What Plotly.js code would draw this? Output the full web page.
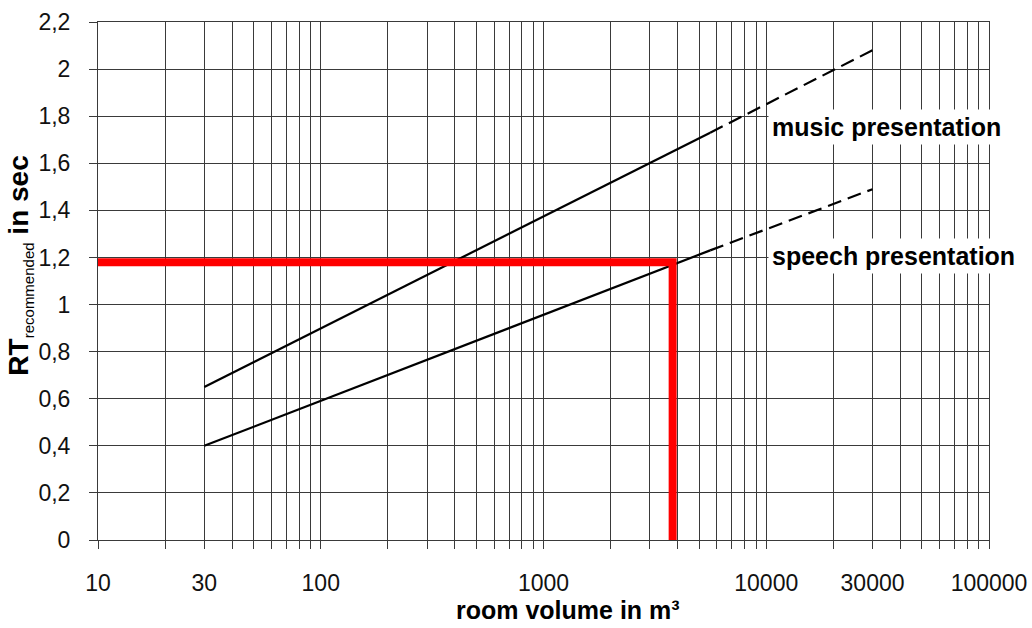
<!DOCTYPE html>
<html>
<head>
<meta charset="utf-8">
<script src="https://cdn.plot.ly/plotly-3.0.1.min.js"></script>
<style>
  html, body { margin: 0; padding: 0; background: #fff; }
  #chart { width: 1032px; height: 628px; }
</style>
</head>
<body>
<div id="chart"></div>
<script>
// Room volume (m³) and recommended reverberation time (s)
const musicSolidX = [30, 5600];
const musicSolidY = [0.65, 1.73];
const musicDashX = [5600, 30000];
const musicDashY = [1.73, 2.08];

const speechSolidX = [30, 5600];
const speechSolidY = [0.40, 1.23];
const speechDashX = [5600, 30000];
const speechDashY = [1.23, 1.49];

// Example reading (red guide lines)
const guideX = [10, 3800, 3800];
const guideY = [1.18, 1.18, 0];

// Grid / tick positions on the log axis
const xGridVals = [10, 20, 30, 40, 50, 60, 70, 80, 90,
  100, 200, 300, 400, 500, 600, 700, 800, 900,
  1000, 2000, 3000, 4000, 5000, 6000, 7000, 8000, 9000,
  10000, 20000, 30000, 40000, 50000, 60000, 70000, 80000, 90000,
  100000];
const xLabelVals = [10, 30, 100, 1000, 10000, 30000, 100000];
const xLabelText = ['10', '30', '100', '1000', '10000', '30000', '100000'];
const xTickText = xGridVals.map(v => {
  const i = xLabelVals.indexOf(v);
  return i >= 0 ? xLabelText[i] : '';
});

const seriesLabels = ['music presentation', 'speech presentation'];
const labelX = 10000;
const labelY = [1.755, 1.205];

const FONT = '"Liberation Sans", Arial, Helvetica, sans-serif';
const GRID = '#3a3a3a';

const traces = [
  { x: musicSolidX, y: musicSolidY, mode: 'lines', line: { color: '#000', width: 2.2 }, name: 'music', showlegend: false },
  { x: musicDashX, y: musicDashY, mode: 'lines', line: { color: '#000', width: 2.2, dash: '14px,7px' }, showlegend: false },
  { x: speechSolidX, y: speechSolidY, mode: 'lines', line: { color: '#000', width: 2.2 }, name: 'speech', showlegend: false },
  { x: speechDashX, y: speechDashY, mode: 'lines', line: { color: '#000', width: 2.2, dash: '14px,7px' }, showlegend: false },
  { x: guideX, y: guideY, mode: 'lines', line: { color: '#ff0000', width: 8 }, showlegend: false }
];

const layout = {
  width: 1032, height: 628,
  margin: { l: 98, r: 43, t: 22, b: 88 },
  paper_bgcolor: '#fff', plot_bgcolor: '#fff',
  separators: ',.',
  font: { family: FONT, color: '#111' },
  showlegend: false,
  xaxis: {
    type: 'log', range: [1, 5],
    tickmode: 'array', tickvals: xGridVals, ticktext: xTickText,
    tickangle: 0,
    ticks: 'outside', ticklen: 8, tickcolor: GRID, tickwidth: 1,
    showgrid: true, gridcolor: GRID, gridwidth: 1,
    showline: true, linecolor: GRID, linewidth: 1, mirror: true,
    zeroline: false,
    tickfont: { size: 23, color: '#111' },
    ticklabelstandoff: 14,
    title: { text: '&nbsp;&nbsp;&nbsp;&nbsp;&nbsp;&nbsp;&nbsp;room volume in m³', font: { size: 25, weight: 'bold', color: '#000' }, standoff: 1 }
  },
  yaxis: {
    range: [0, 2.2], tick0: 0, dtick: 0.2,
    ticks: 'outside', ticklen: 8, tickcolor: GRID, tickwidth: 1,
    showgrid: true, gridcolor: GRID, gridwidth: 1,
    showline: true, linecolor: GRID, linewidth: 1, mirror: true,
    zeroline: false,
    tickfont: { size: 23, color: '#111' },
    ticklabelstandoff: 14,
    title: { text: '&nbsp;&nbsp;&nbsp;&nbsp;<b>RT</b><sub><span style="font-size:15px">recommended</span></sub><b> in sec</b>', font: { size: 28, color: '#000' }, standoff: 1 }
  },
  annotations: seriesLabels.map((t, i) => ({
    x: Math.log10(labelX), y: labelY[i], xref: 'x', yref: 'y',
    xanchor: 'left', yanchor: 'middle', xshift: 2,
    text: t, showarrow: false,
    font: { family: FONT, size: 25, weight: 'bold', color: '#000' },
    bgcolor: '#fff', borderpad: 3
  }))
};

Plotly.newPlot('chart', traces, layout, { displayModeBar: false, staticPlot: true });
</script>
</body>
</html>
